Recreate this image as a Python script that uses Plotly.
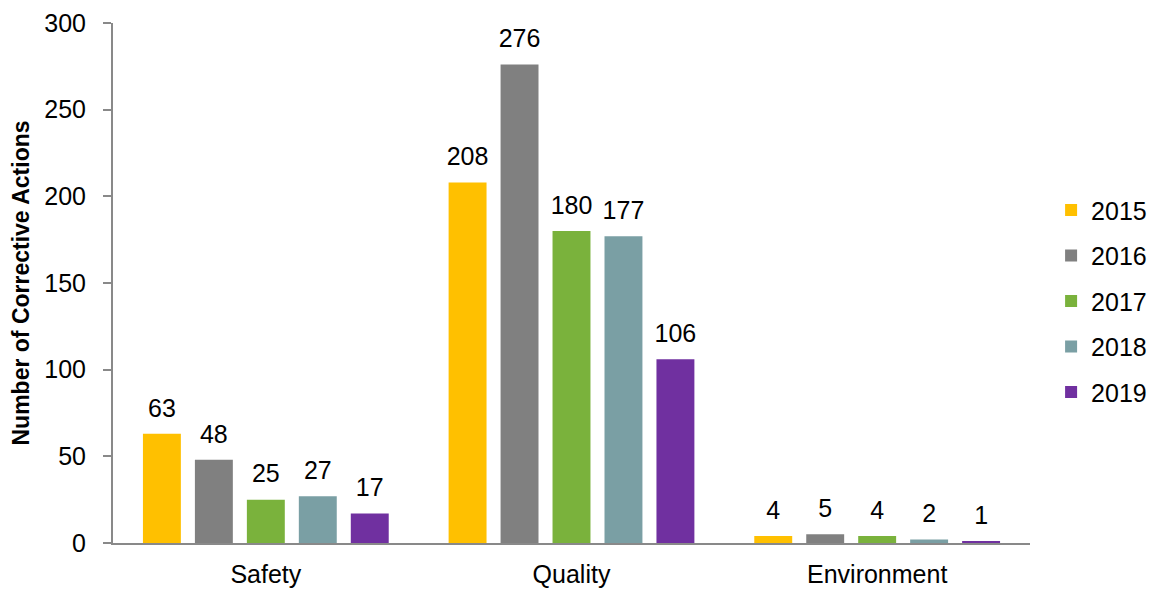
import plotly.graph_objects as go

categories = ["Safety", "Quality", "Environment"]
years = ["2015", "2016", "2017", "2018", "2019"]
v2015 = [63, 208, 4]
v2016 = [48, 276, 5]
v2017 = [25, 180, 4]
v2018 = [27, 177, 2]
v2019 = [17, 106, 1]
series = [v2015, v2016, v2017, v2018, v2019]
colors = ["#FFC000", "#808080", "#7AB23C", "#7A9FA4", "#7030A0"]
y_ticks = [0, 50, 100, 150, 200, 250, 300]

FONT = "Liberation Sans, Arial, sans-serif"

fig = go.Figure()
for yr, vals, col in zip(years, series, colors):
    fig.add_trace(go.Bar(
        name=yr, x=categories, y=vals, legendgroup=yr,
        offsetgroup=yr, alignmentgroup="a",
        marker=dict(color=col, line=dict(width=0)),
        hoverinfo="x+y+name",
    ))
for yr, vals in zip(years, series):
    fig.add_trace(go.Scatter(
        name=yr, x=categories, y=vals, legendgroup=yr, showlegend=False,
        offsetgroup=yr, alignmentgroup="a",
        mode="markers+text", text=[str(v) for v in vals],
        textposition="top center",
        marker=dict(size=16, opacity=0),
        textfont=dict(family=FONT, size=25, color="#000000"),
        cliponaxis=False, hoverinfo="skip",
    ))

fig.update_layout(
    width=1158, height=590,
    margin=dict(l=113, r=128, t=23, b=47, autoexpand=False),
    paper_bgcolor="white", plot_bgcolor="white",
    barmode="group", bargap=0.15, bargroupgap=0.27,
    scattermode="group", scattergap=0.15,
    font=dict(family=FONT, size=25, color="#000000"),
    showlegend=True,
    legend=dict(x=1.023, xanchor="left", y=0.465, yanchor="middle",
                font=dict(family=FONT, size=25, color="#000000"),
                tracegroupgap=10, itemsizing="constant"),
    xaxis=dict(showline=True, linecolor="#898989", linewidth=2,
               ticks="", showgrid=False, ticklabelstandoff=8, automargin=False,
               tickfont=dict(family=FONT, size=25, color="#000000")),
    yaxis=dict(range=[0, 300], tickvals=y_ticks, showline=True, automargin=False,
               linecolor="#898989", linewidth=2, ticks="outside",
               ticklen=8, tickcolor="#898989", tickwidth=2,
               showgrid=False, zeroline=False, ticklabelstandoff=12,
               tickfont=dict(family=FONT, size=25, color="#000000"),
               title=dict(text="<b>Number of Corrective Actions</b>",
                          font=dict(family=FONT, size=23, color="#000000"),
                          standoff=8)),
)

fig.write_html("out.html")
